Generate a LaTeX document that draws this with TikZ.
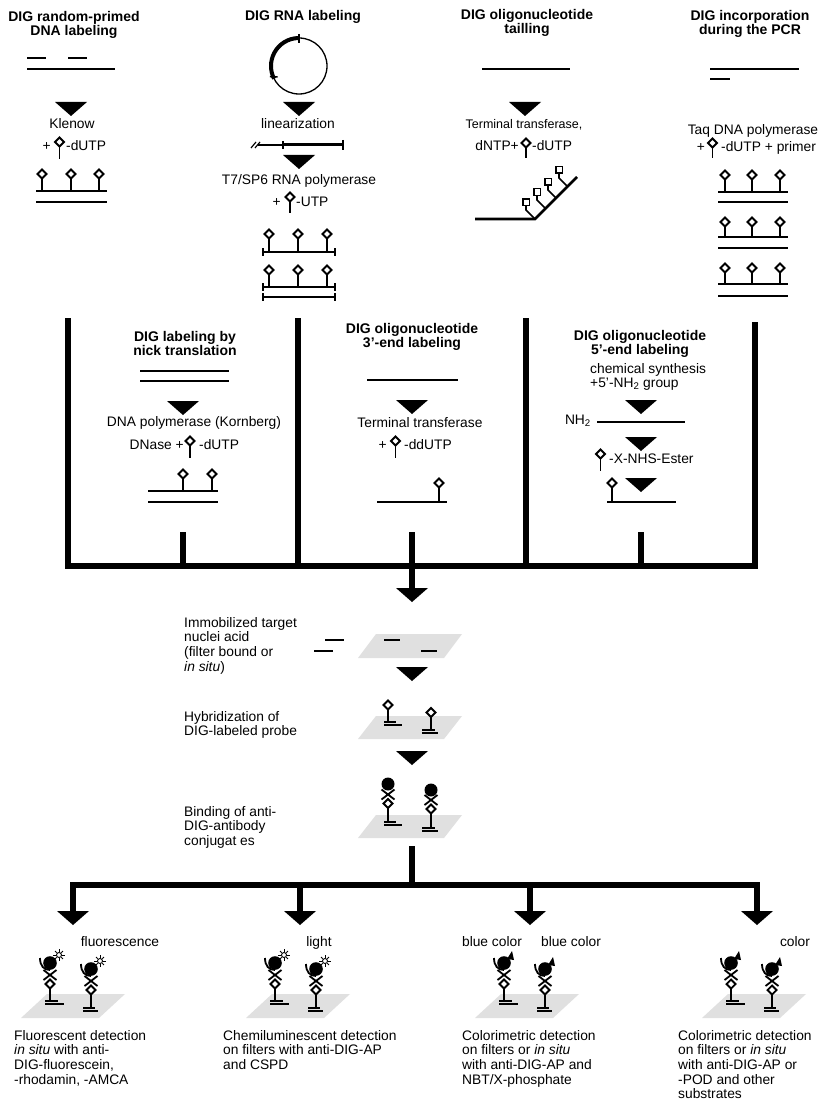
\documentclass[tikz,border=0pt]{standalone}
\usepackage{fontspec}
\setmainfont{Liberation Sans}
\tikzset{
  strand/.style={line width=2.8pt},
  thinl/.style={line width=1.3pt},
  frame/.style={line width=6pt},
  diam/.style={line width=1.8pt, fill=white, line join=miter},
  stem/.style={line width=1.8pt},
  plate/.style={fill=black!12, draw=none},
  title/.style={font=\bfseries\fontsize{14}{14}\selectfont, align=center, anchor=base, inner sep=0pt},
  txt/.style={font=\fontsize{13.8}{14.7}\selectfont, inner sep=0pt, anchor=base},
  txtl/.style={txt, anchor=base west, align=left},
}
\newcommand\DGtri[2]{\fill (#1-16,#2) -- (#1+16,#2) -- (#1,#2+14) -- cycle;}
\newcommand\DGhap[3]{%
  \draw[stem] (#1,#2) -- (#1,#3);
  \draw[diam] (#1,#2-4.5) -- (#1+4.5,#2) -- (#1,#2+4.5) -- (#1-4.5,#2) -- cycle;}
\newcommand\DGend[3]{%
  \draw[strand] (#1,#3) -- (#2,#3);
  \draw[line width=1.8pt] (#1,#3-4) -- (#1,#3+4) (#2,#3-4) -- (#2,#3+4);}
\newcommand\DGbase[5]{%
  \draw[line width=2.2pt] (#1-#5,#2) -- (#1+#3,#2);
  \draw[line width=2.2pt] (#1-#5,#2+3.2) -- (#1+#4,#2+3.2);}
\newcommand\DGab[3]{%
  \draw[stem] (#1,#2) -- (#1,#3);
  \draw[stem] (#1-6.5,#2-14) -- (#1+6.5,#2-4) (#1+6.5,#2-14) -- (#1-6.5,#2-4);
  \draw[diam] (#1,#2-4.5) -- (#1+4.5,#2) -- (#1,#2+4.5) -- (#1-4.5,#2) -- cycle;}
\newcommand\DGblob[2]{%
  \fill (#1,#2) circle (6.8);
  \draw[line width=1.8pt] (#1-10,#2-5) .. controls (#1-10,#2+3) and (#1-6,#2+7) .. (#1,#2+7);}
\newcommand\DGsun[2]{%
  \draw[line width=0.9pt, fill=white] (#1,#2) circle (2.5);
  \foreach \a in {0,45,...,315} \draw[line width=1pt] ([shift={(#1,#2)}]\a:3.2) -- ([shift={(#1,#2)}]\a:5.6);}
\newcommand\DGflag[2]{\fill (#1-5,#2+2) -- (#1,#2-6) -- (#1+2,#2+3) -- cycle;}
\newcommand\DGplate[2]{\fill[plate] (#1+26,#2) -- (#1+104,#2) -- (#1+78,#2+24) -- (#1,#2+24) -- cycle;}
\begin{document}
\begin{tikzpicture}[x=1pt,y=-1pt]
\useasboundingbox (0,0) rectangle (835,1102);
\fill[white] (0,0) rectangle (835,1102);

% ---------- column 1: random primed
\node[title] (t1) at (74,36) {DIG random-primed\\DNA labeling};
\draw[strand] (27,58) -- (46,58) (68,58) -- (87,58);
\draw[strand] (27,69) -- (115,69);
\DGtri{71}{102}
\node[txt] (k1) at (72,129) {Klenow};
\node[txt, anchor=base east] (p1) at (51,151) {+};
\DGhap{59.5}{142}{159}
\node[txt, anchor=base west] (u1) at (66,151) {-dUTP};
\foreach \x in {42,71,99} {\DGhap{\x}{174}{191}}
\draw[strand] (36,191) -- (107,191);
\draw[strand] (36,202) -- (107,202);

% ---------- column 2: RNA labeling
\node[title] (t2) at (303,21) {DIG RNA labeling};
\draw[thinl] (299,66) circle (28);
\draw[line width=4pt] ([shift={(299,66)}]268:28) arc (268:153:28);
\draw[line width=1.6pt] (299,34) -- (299,43);
\draw[line width=1.6pt] ([shift={(299,66)}]153:24) -- ([shift={(299,66)}]160:31);
\DGtri{299}{102}
\node[txt] (lin) at (298,129) {linearization};
\draw[line width=1.2pt] (251,148) -- (256,142) (255,148) -- (260,142);
\draw[thinl] (258,145) -- (283,145);
\draw[line width=3pt] (283,145) -- (343,145);
\draw[line width=1.8pt] (283,141) -- (283,149) (343,140) -- (343,150);
\DGtri{299}{155}
\node[txt] (t7) at (299,185) {T7/SP6 RNA polymerase};
\node[txt, anchor=base east] (p2) at (281,206) {+};
\DGhap{290}{197}{213}
\node[txt, anchor=base west] (u2) at (296,206) {-UTP};
\foreach \x in {269,298,327} {\DGhap{\x}{234}{252} \DGhap{\x}{270}{287}}
\DGend{263}{335}{252}
\DGend{263}{335}{287}
\DGend{263}{335}{297}

% ---------- column 3: tailing
\node[title] (t3) at (527,34) {DIG oligonucleotide\\tailling};
\draw[strand] (482,69) -- (570,69);
\DGtri{525}{102}
\node[txt, font=\fontsize{12.5}{14}\selectfont] (tt) at (524,129) {Terminal transferase,};
\node[txt, anchor=base east] (dn) at (519,151) {dNTP+};
\DGhap{526}{143}{158}
\node[txt, anchor=base west] (u3) at (532,151) {-dUTP};
\draw[strand, line join=miter] (475,219) -- (535,219) -- (577,177);
\draw[line width=1.6pt] (526,205.3) -- (526,210) -- (535,219)
  (537,195.3) -- (537,200) -- (545.5,208.5)
  (548,185.3) -- (548,190) -- (556,198)
  (559,173.3) -- (559,178) -- (567.5,186.5);
\foreach \sx/\sy in {526/202,537/192,548/182,559/170}
  {\draw[line width=1.6pt, fill=white] (\sx-3.3,\sy-3.3) rectangle (\sx+3.3,\sy+3.3);}

% ---------- column 4: PCR
\node[title] (t4) at (750,35) {DIG incorporation\\during the PCR};
\draw[strand] (710,69) -- (799,69);
\draw[strand] (710,79) -- (730,79);
\node[txt] (taq) at (753,135) {Taq DNA polymerase};
\node[txt, anchor=base east] (p4) at (705,152) {+};
\DGhap{712.5}{143}{158}
\node[txt, anchor=base west] (u4) at (721,152) {-dUTP + primer};
\foreach \d/\a/\b in {175/192/202,222/237/248,268/284/296}
  {\foreach \x in {725,752,780} {\DGhap{\x}{\d}{\a}}
   \draw[strand] (718,\a) -- (788,\a);
   \draw[strand] (718,\b) -- (788,\b);}

% ---------- frame
\draw[frame, line join=miter] (68,318) -- (68,566) -- (755,566) -- (755,322);
\draw[frame] (298,318) -- (298,566) (526,318) -- (526,566)
  (183,532) -- (183,566) (641,532) -- (641,566) (412,532) -- (412,590);
\DGtri{412}{588}

% ---------- middle A: nick translation
\node[title] (ta) at (185,355) {DIG labeling by\\nick translation};
\draw[strand] (140,371) -- (229,371) (140,381) -- (229,381);
\DGtri{183}{401}
\node[txt] (pol) at (194,426) {DNA polymerase (Kornberg)};
\node[txt, anchor=base east] (dna) at (184,449) {DNase +};
\DGhap{190}{441}{458}
\node[txt, anchor=base west] (ua) at (199,449) {-dUTP};
\DGhap{183}{474}{491}
\DGhap{212}{474}{491}
\draw[strand] (148,491) -- (218,491) (148,502) -- (218,502);

% ---------- middle B: 3'-end
\node[title] (tb) at (412,347) {DIG oligonucleotide\\3’-end labeling};
\draw[strand] (367,380) -- (458,380);
\DGtri{412}{400}
\node[txt] (tt2) at (420,427) {Terminal transferase};
\node[txt, anchor=base east] (pb) at (387,449) {+};
\DGhap{395.5}{441}{458}
\node[txt, anchor=base west] (ub) at (404,449) {-ddUTP};
\DGhap{439}{483}{502}
\draw[strand] (377,502) -- (447,502);

% ---------- middle C: 5'-end
\node[title] (tc) at (640,354) {DIG oligonucleotide\\5’-end labeling};
\node[txtl] (chem) at (590,387.7) {chemical synthesis\\+5’-NH\textsubscript{2} group};
\DGtri{641}{400}
\node[txt, anchor=base east] (nh) at (591,424) {NH\textsubscript{2}};
\draw[strand] (597,422) -- (685,422);
\DGtri{641}{437}
\DGhap{600.5}{454}{471}
\node[txt, anchor=base west] (est) at (609,463) {-X-NHS-Ester};
\DGtri{641}{478}
\DGhap{612}{483}{502}
\draw[strand] (607,502) -- (676,502);

% ---------- centre stack
\node[txtl] (imm) at (184,671.1) {Immobilized target\\nuclei acid\\(filter bound or\\\emph{in situ})};
\draw[line width=2.5pt] (325,640) -- (344,640) (314,651) -- (333,651);
\fill[plate] (376,634) -- (462,634) -- (444,658) -- (358,658) -- cycle;
\draw[line width=2.5pt] (384,640) -- (400,640) (421,651) -- (437,651);
\DGtri{412}{667}

\node[txtl] (hyb) at (184,735.7) {Hybridization of\\DIG-labeled probe};
\fill[plate] (376,716) -- (462,716) -- (444,739) -- (358,739) -- cycle;
\DGhap{388}{705}{722}
\DGbase{388}{722}{8}{14}{4}
\DGhap{431}{712.5}{730}
\DGbase{431}{730}{4}{7}{9}
\DGtri{412}{751}

\node[txtl] (bind) at (184,845.4) {Binding of anti-\\DIG-antibody\\conjugat es};
\fill[plate] (376,815) -- (462,815) -- (444,838) -- (358,838) -- cycle;
\fill (388,784) circle (6.5);
\DGab{388}{803.5}{822}
\DGbase{388}{822}{8}{14}{4}
\fill (431,790) circle (6.5);
\DGab{431}{809}{828}
\DGbase{431}{828}{4}{7}{9}

% ---------- detection tree
\draw[frame] (412,846) -- (412,885);
\draw[frame, line join=miter] (73,912) -- (73,885) -- (757,885) -- (757,912);
\draw[frame] (300,885) -- (300,912) (530,885) -- (530,912);
\DGtri{73}{911}
\DGtri{300}{911}
\DGtri{530}{911}
\DGtri{757}{911}

\node[txt] (lf) at (120,946) {fluorescence};
\node[txt] (ll) at (319,946) {light};
\node[txt] (lb1) at (492,946) {blue color};
\node[txt] (lb2) at (571,946) {blue color};
\node[txt] (lc) at (795,946) {color};

\foreach \L/\k in {21/1,246/1,475/2,702/2} {
  \DGplate{\L}{994}
  \pgfmathsetmacro\xa{\L+29}
  \pgfmathsetmacro\xb{\L+70}
  \DGab{\xa}{984}{1001}
  \DGbase{\xa}{1001}{8}{14}{5}
  \DGblob{\xa}{963}
  \DGab{\xb}{990}{1008}
  \DGbase{\xb}{1008}{4}{7}{8}
  \DGblob{\xb}{969}
  \ifnum\k=1
    \DGsun{\xa+9}{955}
    \DGsun{\xb+9}{961}
  \else
    \DGflag{\xa+8}{957}
    \DGflag{\xb+8}{963}
  \fi
}

\node[txtl] (d1) at (14,1084.1) {Fluorescent detection\\\emph{in situ} with anti-\\DIG-fluorescein,\\-rhodamin, -AMCA};
\node[txtl] (d2) at (223,1069.4) {Chemiluminescent detection\\on filters with anti-DIG-AP\\and CSPD};
\node[txtl] (d3) at (462,1084.1) {Colorimetric detection\\on filters or \emph{in situ}\\with anti-DIG-AP and\\NBT/X-phosphate};
\node[txtl] (d4) at (678,1098.8) {Colorimetric detection\\on filters or \emph{in situ}\\with anti-DIG-AP or\\-POD and other\\substrates};
\end{tikzpicture}
\end{document}
